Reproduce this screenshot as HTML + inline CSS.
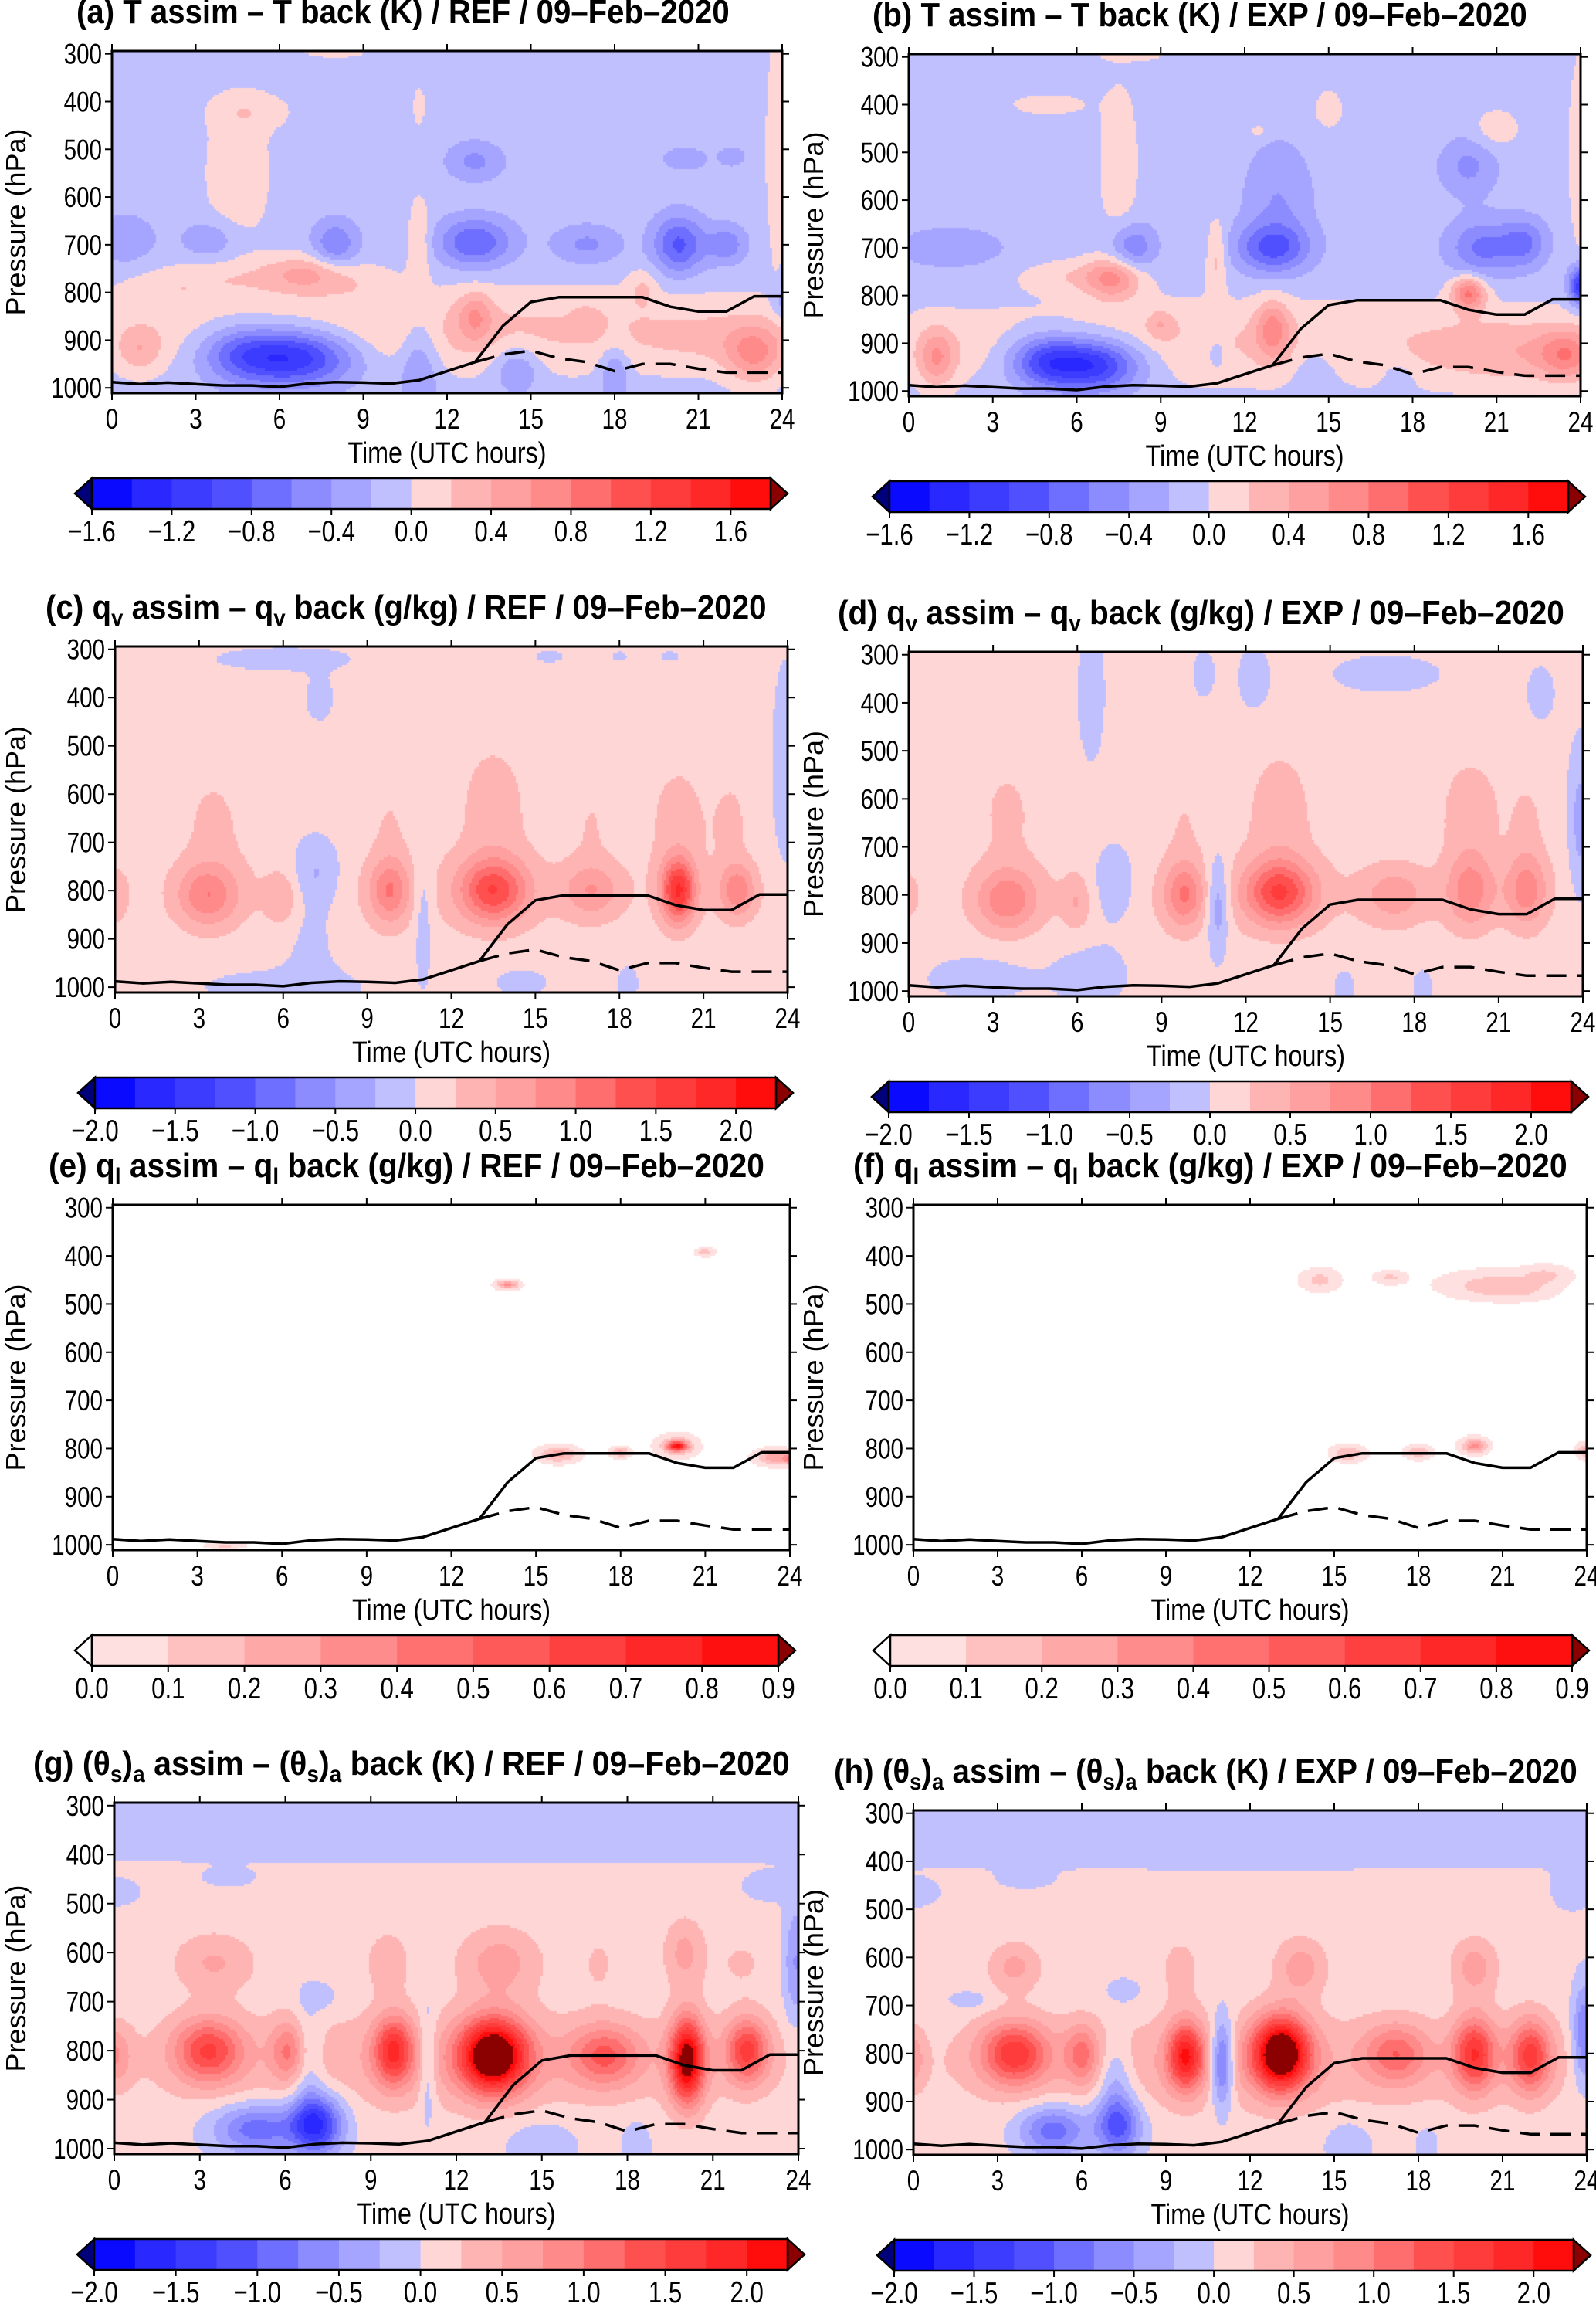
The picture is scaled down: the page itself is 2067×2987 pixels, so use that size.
<!DOCTYPE html>
<html><head><meta charset="utf-8"><title>Assimilation increments 09-Feb-2020</title>
<style>
html,body{margin:0;padding:0;background:#fff}
#root{position:relative;width:2067px;height:2987px;overflow:hidden;background:#fff}
canvas{position:absolute}
svg{position:absolute;left:0;top:0}
text{font-family:"Liberation Sans",sans-serif;fill:#000}
</style></head>
<body>
<div id="root">
<svg id="svg" width="2067" height="2987"></svg>
</div>
<script>
// ---------- data ----------
const hours = [0,1,2,3,4,5,6,7,8,9,10,11,12,13,14,15,16,17,18,19,20,21,22,23,24];
const pblSolid = [988,992,989,992,995,995,998,991,988,989,991,984,965,946,870,820,810,810,810,810,830,840,840,808,808];
const dashHours = [13,14,15,16,17,18,19,20,21,22,23,24];
const pblDashed = [946,930,922,938,946,965,950,950,960,968,968,968];
const timeTicks = [0,3,6,9,12,15,18,21,24];
const pressureTicks = [300,400,500,600,700,800,900,1000];
const tLabels = ["-1.6","-1.2","-0.8","-0.4","0.0","0.4","0.8","1.2","1.6"];
const qLabels = ["-2.0","-1.5","-1.0","-0.5","0.0","0.5","1.0","1.5","2.0"];
const qlLabels = ["0.0","0.1","0.2","0.3","0.4","0.5","0.6","0.7","0.8","0.9"];
// blobs: [hour, pressure, amplitude, hour-width, pressure-width]
const blobsA = [[12,880,0.35,14,90],[4.5,550,0.25,1.2,150],[5,420,0.2,1.5,40],[11,700,0.3,0.4,100],[11,410,0.25,0.2,40],
 [7,760,0.45,1.5,40],[4,770,0.2,3,40],[0.5,690,-0.3,1,50],[3.5,690,-0.3,1,40],[8,700,-0.5,0.8,50],[13,695,-0.7,1.3,50],
 [17,700,-0.35,1.2,40],[20.3,700,-0.75,0.9,60],[22,700,-0.45,0.7,40],[13,525,-0.35,1,40],[20.5,520,-0.25,0.8,25],[22.2,515,-0.25,0.5,20],
 [6.5,935,-1.2,2.2,60],[4.5,925,-0.5,1.5,60],[11,950,-0.4,0.7,120],[14.5,960,-0.4,0.8,50],[18,970,-0.4,0.5,60],
 [13,850,0.45,0.6,50],[1,920,0.35,0.8,50],[23,930,0.6,1,60],[17,860,0.2,0.5,30],[19,790,0.25,0.5,40],[21.5,900,0.15,2.5,60],
 [23.8,500,0.25,0.4,250],[8,295,0.2,1.3,15],[24,820,-0.3,0.4,40],[2,800,0.12,1.5,30],[9,780,0.12,1.5,40]];
const blobsB = [[12,900,0.3,14,90],[7.5,520,0.25,0.7,170],[5,400,0.2,1.5,25],[11,720,0.35,0.35,80],[15,410,0.25,0.5,40],[12.5,455,0.2,0.4,15],[21,450,0.25,0.8,40],
 [7.3,765,0.6,1,45],[6,760,0.25,2,35],[9,860,0.3,0.5,30],[13,870,0.6,0.6,60],[20,795,0.9,0.6,35],[23.5,925,0.6,1,50],[21.5,920,0.3,3,70],[1,930,0.6,0.7,60],
 [13.2,600,-0.3,1.2,120],[8,700,-0.5,0.8,50],[13,700,-0.7,1.3,50],[20,530,-0.35,1,60],[20.5,700,-0.55,1.2,60],[22,690,-0.5,0.8,50],[24,780,-1.1,0.4,40],[1.5,700,-0.3,1.8,40],
 [6.5,945,-1.2,1.8,55],[4.8,935,-0.7,1.3,55],[11,920,-0.3,0.3,30],[14.5,950,-0.2,0.8,60],[17.5,980,-0.2,0.5,50],[24,500,0.3,0.4,200],[8,295,0.2,1.3,15]];
const blobsC = [[12,800,0.15,12,120],[6,320,-0.2,2.5,25],[7.3,400,-0.15,0.6,60],[7.2,760,-0.35,0.9,70],[7,880,-0.2,1.0,150],[6,1000,-0.2,3,40],
 [11,830,-0.3,0.35,150],[14.5,990,-0.2,1,30],[18.3,990,-0.2,0.4,40],[23.9,550,-0.3,0.4,200],[15.5,315,-0.15,0.6,15],[18,315,-0.15,0.3,12],[19.8,315,-0.15,0.4,12],
 [3.3,810,0.8,1.1,65],[3.5,650,0.2,1.2,120],[0,810,0.3,0.5,60],[6,815,0.35,0.6,55],[9.8,800,0.8,0.7,65],[9.8,650,0.15,0.7,100],
 [13.5,800,1.25,1.2,65],[13.5,620,0.3,1.2,130],[17,800,0.55,1.0,55],[17,650,0.15,0.7,100],[20.1,800,1.6,0.6,65],[20.1,640,0.25,1.1,120],[22.2,800,0.8,0.65,55],[22,650,0.2,0.7,100]];
const blobsD = [[12,800,0.15,12,120],[6.5,380,-0.2,0.5,150],[10.5,340,-0.2,0.4,50],[12.3,350,-0.2,0.6,70],[17,340,-0.2,2,40],[22.5,380,-0.15,0.6,70],
 [7.3,780,-0.35,0.9,90],[11,820,-0.6,0.4,100],[2.5,970,-0.2,2,50],[6.5,960,-0.2,1.5,70],[15.5,990,-0.2,0.4,40],[18.3,990,-0.2,0.4,40],[23.9,650,-0.45,0.4,150],
 [3.5,810,0.8,1.1,65],[6,815,0.35,0.5,55],[9.8,800,0.8,0.7,65],[13.2,795,1.3,1.2,65],[17.3,800,0.5,1.1,55],[20,790,0.75,0.85,75],[22,790,0.75,0.75,75],[0,800,0.25,0.4,50],
 [3.5,620,0.2,1.2,120],[9.8,640,0.15,0.7,120],[13.2,620,0.3,1.2,130],[20,620,0.35,1.0,100],[22,640,0.2,0.7,100]];
const blobsE = [[14,460,0.35,0.35,8],[21,392,0.15,0.3,8],[15.8,812,0.25,0.6,15],[18,808,0.22,0.3,10],[20,795,0.7,0.35,10],[20,795,0.2,0.6,20],[23.5,818,0.3,0.6,14],[24,822,0.3,0.2,10],[4,1002,0.12,0.6,6]];
const blobsF = [[15.5,810,0.2,0.5,15],[18,808,0.2,0.4,12],[20,795,0.35,0.4,14],[24,805,0.25,0.3,14],[14.5,450,0.13,0.6,20],[17,445,0.12,0.5,12],[20.5,460,0.13,1.5,25],[22.5,440,0.12,0.8,18],[21.5,470,0.1,1.2,20]];
const blobsG = [[12,300,-0.25,40,110],[0,480,-0.15,1,30],[23,470,-0.15,1,30],[4,450,-0.1,1,20],[12,820,0.35,12,100],
 [0,810,0.6,0.6,60],[3.3,800,1.3,1.2,65],[6.1,800,0.75,0.6,60],[9.8,800,1.5,0.7,70],[13.3,810,2.6,1.2,75],[17.2,810,1.0,1.2,60],[20.1,820,2.3,0.6,85],[22.2,800,1.4,0.75,65],
 [3.5,620,0.45,1.4,60],[9.6,620,0.4,0.7,60],[13.5,620,0.55,1.4,70],[17,620,0.2,0.7,70],[20,600,0.5,0.7,70],[22,620,0.2,1.0,60],
 [7.1,950,-1.6,0.9,60],[5,960,-1.0,1.5,50],[6.8,820,-0.4,0.5,120],[7.2,690,-0.3,0.6,25],[11,820,-0.5,0.3,120],[15,990,-0.3,1.2,50],[18.3,990,-0.3,0.5,50],[23.9,620,-0.6,0.4,120]];
const blobsH = [[12,300,-0.25,40,110],[0,470,-0.15,1,30],[23.5,470,-0.15,0.8,40],[4,440,-0.1,1,20],[12,820,0.35,12,100],
 [0,810,0.5,0.4,60],[3.6,800,1.45,1.2,65],[6,800,0.8,0.6,60],[9.7,805,1.7,0.65,70],[13.1,800,2.6,1.0,75],[17.2,800,0.9,1.1,60],[20,800,1.5,0.75,75],[22,805,1.4,0.75,75],
 [3.6,620,0.5,0.9,50],[9.5,620,0.25,0.8,70],[13.8,620,0.55,0.9,60],[20,620,0.55,0.8,60],
 [5,960,-1.0,1.2,50],[7.3,950,-1.2,0.8,60],[7.2,850,-0.5,0.6,80],[7.5,670,-0.3,0.6,25],[2,690,-0.25,0.8,20],[11,820,-1.2,0.4,90],[15.5,990,-0.3,0.8,50],[18.3,990,-0.25,0.4,40],[23.9,760,-0.9,0.4,100]];

// ---------- styles ----------
const divColors = ["#0a0aff","#2828ff","#3c3cff","#5050ff","#6e6eff","#8c8cff","#a5a5ff","#c0c0ff","#ffd6d6","#ffb4b4","#ffa0a0","#ff8a8a","#ff6e6e","#ff5050","#ff3c3c","#ff2828","#ff0d0d"];
const qlColors = ["#ffe0e0","#ffc0c0","#ffa8a8","#ff8c8c","#ff7070","#ff5a5a","#ff4040","#ff2828","#ff1010"];
const P_TOP = 294, P_BOT = 1011;
const SUB = 1;
const panels = [
 {id:"a",x0:145,x1:1013,y0:66,y1:509,blobs:blobsA,bg:-0.1,kind:"T",cb:[119,998],title:[["(a) T assim – T back (K) / REF / 09–Feb–2020",0]],tx:[99,945]},
 {id:"b",x0:1177,x1:2047,y0:70,y1:513,blobs:blobsB,bg:-0.1,kind:"T",cb:[1152,2031],title:[["(b) T assim – T back (K) / EXP / 09–Feb–2020",0]],tx:[1130,1978]},
 {id:"c",x0:149,x1:1020,y0:837,y1:1285,blobs:blobsC,bg:0.08,kind:"q",cb:[123,1005],title:[["(c) q",0],["v",SUB],[" assim – q",0],["v",SUB],[" back (g/kg) / REF / 09–Feb–2020",0]],tx:[59,993]},
 {id:"d",x0:1177,x1:2050,y0:844,y1:1290,blobs:blobsD,bg:0.08,kind:"q",cb:[1151,2035],title:[["(d) q",0],["v",SUB],[" assim – q",0],["v",SUB],[" back (g/kg) / EXP / 09–Feb–2020",0]],tx:[1085,2026]},
 {id:"e",x0:146,x1:1023,y0:1560,y1:2007,blobs:blobsE,bg:0,kind:"ql",cb:[119,1008],title:[["(e) q",0],["l",SUB],[" assim – q",0],["l",SUB],[" back (g/kg) / REF / 09–Feb–2020",0]],tx:[63,990]},
 {id:"f",x0:1183,x1:2055,y0:1560,y1:2007,blobs:blobsF,bg:0,kind:"ql",cb:[1153,2036],title:[["(f) q",0],["l",SUB],[" assim – q",0],["l",SUB],[" back (g/kg) / EXP / 09–Feb–2020",0]],tx:[1105,2030]},
 {id:"g",x0:148,x1:1034,y0:2334,y1:2789,blobs:blobsG,bg:0.08,kind:"q",cb:[122,1020],title:[["(g) (θ",0],["s",SUB],[")",0],["a",SUB],[" assim – (θ",0],["s",SUB],[")",0],["a",SUB],[" back (K) / REF / 09–Feb–2020",0]],tx:[43,1023]},
 {id:"h",x0:1183,x1:2055,y0:2344,y1:2790,blobs:blobsH,bg:0.08,kind:"q",cb:[1158,2038],title:[["(h) (θ",0],["s",SUB],[")",0],["a",SUB],[" assim – (θ",0],["s",SUB],[")",0],["a",SUB],[" back (K) / EXP / 09–Feb–2020",0]],tx:[1080,2043]}
];
const NS = "http://www.w3.org/2000/svg";
const svg = document.getElementById("svg");
const root = document.getElementById("root");
function mk(tag, attrs, parent){const e=document.createElementNS(NS,tag);for(const k in attrs)e.setAttribute(k,attrs[k]);(parent||svg).appendChild(e);return e;}
function ctext(parent,x,y,str,size,anchor,sx){
  const t=mk("text",{x:0,y:0,"font-size":size,"text-anchor":anchor,transform:`translate(${x} ${y}) scale(${sx} 1)`},parent);
  t.textContent=str; return t;
}
function field(blobs,bg,t,p){let v=bg;for(const b of blobs){const dt=(t-b[0])/b[3],dp=(p-b[1])/b[4];v+=b[2]*Math.exp(-dt*dt-dp*dp);}return v;}
function colorFor(kind,v){
  if(kind==="ql"){ if(v<0.02) return "#ffffff"; const i=Math.floor(v/0.1); return i>=9?"#8b0000":qlColors[i]; }
  const min = kind==="T"?-1.6:-2.0, step = kind==="T"?0.2:0.25;
  const i=Math.floor((v-min)/step); if(i<0) return "#00007a"; if(i>=17) return "#8b0000"; return divColors[i];
}

panels.forEach(P=>{
  const W=P.x1-P.x0, H=P.y1-P.y0;
  const xs = t => P.x0 + t/24*W;
  const ys = p => P.y0 + (p-P_TOP)/(P_BOT-P_TOP)*H;
  const cv=document.createElement("canvas");
  cv.width=W; cv.height=H; cv.style.left=P.x0+"px"; cv.style.top=P.y0+"px";
  
  
  root.insertBefore(cv, svg);
  const ctx=cv.getContext("2d"); const cs=3;
  for(let py=0;py<H;py+=cs){ const p=P_TOP+(py+cs/2)/H*(P_BOT-P_TOP);
    for(let px=0;px<W;px+=cs){ const t=(px+cs/2)/W*24;
      ctx.fillStyle=colorFor(P.kind,field(P.blobs,P.bg,t,p)); ctx.fillRect(px,py,cs,cs);} }
  const g=mk("g",{});
  
  
  const solid = mk("path",{d:hours.map((h,i)=>(i?"L":"M")+xs(h).toFixed(1)+" "+ys(pblSolid[i]).toFixed(1)).join(" "),fill:"none",stroke:"#000","stroke-width":3.5,"stroke-linejoin":"round"},g);
  
  
  const dashed = mk("path",{d:dashHours.map((h,i)=>(i?"L":"M")+xs(h).toFixed(1)+" "+ys(pblDashed[i]).toFixed(1)).join(" "),fill:"none",stroke:"#000","stroke-width":3.5,"stroke-dasharray":"26 14"},g);
  
  
  const fr=mk("rect",{x:P.x0,y:P.y0,width:W,height:H,fill:"none",stroke:"#000","stroke-width":3},g);
  
  
  timeTicks.forEach(t=>{ const x=xs(t);
    mk("line",{x1:x,x2:x,y1:P.y0,y2:P.y0-9,stroke:"#000","stroke-width":2},g);
    mk("line",{x1:x,x2:x,y1:P.y1,y2:P.y1+9,stroke:"#000","stroke-width":2},g);
    const tl=ctext(g,x,P.y1+46,String(t),37,"middle",0.8);
    
    
  });
  pressureTicks.forEach(p=>{ const y=ys(p);
    mk("line",{x1:P.x0,x2:P.x0-9,y1:y,y2:y,stroke:"#000","stroke-width":2},g);
    mk("line",{x1:P.x1,x2:P.x1+9,y1:y,y2:y,stroke:"#000","stroke-width":2},g);
    const tl=ctext(g,P.x0-13,y+13,String(p),37,"end",0.8);
    
    
  });
  const xt=ctext(g,(P.x0+P.x1)/2,P.y1+90,"Time (UTC hours)",38,"middle",0.85);
  
  
  const yx = P.x0 < 600 ? 33 : 1066;
  const yt=mk("text",{x:yx,y:(P.y0+P.y1)/2,"font-size":36,"text-anchor":"middle",transform:`rotate(-90 ${yx} ${(P.y0+P.y1)/2})`},g); yt.textContent="Pressure (hPa)";
  
  
  // title
  const tt=mk("text",{x:P.tx[0],y:P.y0-36,"font-size":44,"font-weight":"bold"},g);
  
  
  let prevSub=false;
  P.title.forEach(s=>{
    const a={};
    if(s[1]){ a["font-size"]=30; a.dy=prevSub?0:9; }
    else if(prevSub){ a.dy=-9; }
    const sp=mk("tspan",a,tt); sp.textContent=s[0]; prevSub=!!s[1];
  });
  const tw=tt.getComputedTextLength(); const sx=(P.tx[1]-P.tx[0])/tw;
  tt.setAttribute("transform",`translate(${P.tx[0]} 0) scale(${sx} 1) translate(${-P.tx[0]} 0)`);
  // colorbar
  const cbg=mk("g",{},g);
  
  
  const cy0=P.y1+110, cy1=P.y1+150, L=P.cb[0], R=P.cb[1];
  const cols = P.kind==="ql"?qlColors:divColors;
  const n=cols.length, cw=(R-L)/n;
  const lowC = P.kind==="ql"?"#ffffff":"#00007a";
  mk("polygon",{points:`${L},${cy0} ${L-22},${(cy0+cy1)/2} ${L},${cy1}`,fill:lowC,stroke:"#000","stroke-width":2.5},cbg);
  mk("polygon",{points:`${R},${cy0} ${R+22},${(cy0+cy1)/2} ${R},${cy1}`,fill:"#8b0000",stroke:"#000","stroke-width":2.5},cbg);
  cols.forEach((c,i)=>mk("rect",{x:L+i*cw,y:cy0,width:cw+0.5,height:cy1-cy0,fill:c},cbg));
  mk("rect",{x:L,y:cy0,width:R-L,height:cy1-cy0,fill:"none",stroke:"#000","stroke-width":2.5},cbg);
  const labels = P.kind==="T"?tLabels:(P.kind==="q"?qLabels:qlLabels);
  const every = P.kind==="ql"?1:2;
  labels.forEach((lab,i)=>{ const x=L+i*every*cw;
    mk("line",{x1:x,x2:x,y1:cy1,y2:cy1+8,stroke:"#000","stroke-width":2},cbg);
    const t=ctext(cbg,x,P.y1+192,lab.replace("-","−"),39,"middle",0.8);
    
    
  });
});
</script>
</body></html>
